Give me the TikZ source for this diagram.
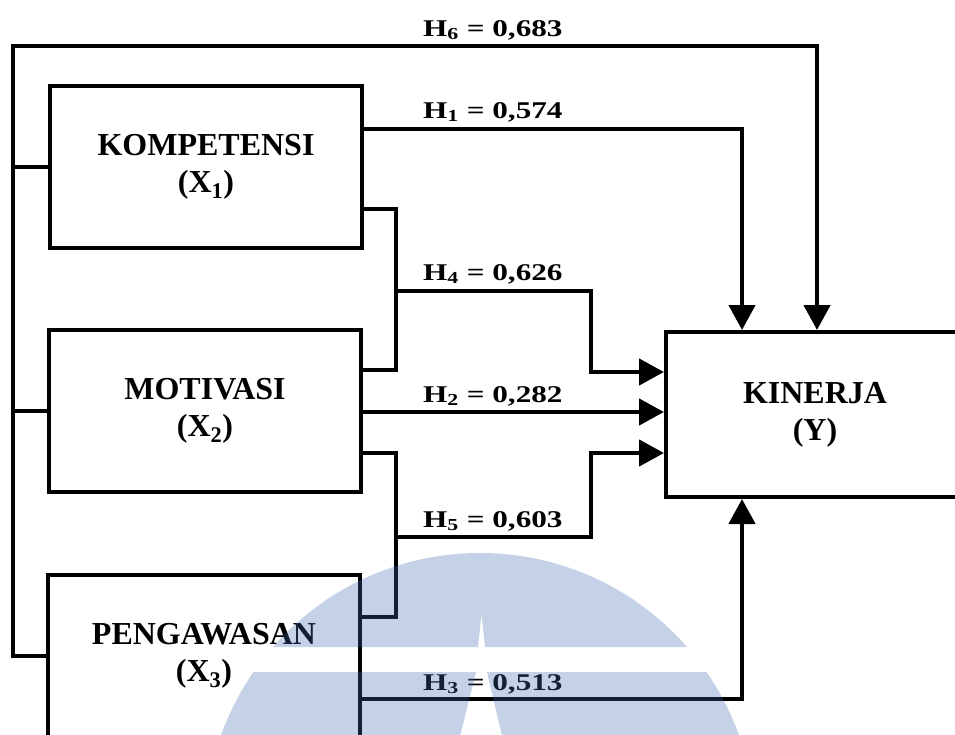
\documentclass[tikz,border=0pt]{standalone}
\usepackage{fontspec}
\setmainfont{Liberation Serif}
\usepackage{graphicx}
\usetikzlibrary{arrows.meta}
\definecolor{wm}{RGB}{62,105,178}
\newcommand\hlab[2]{\scalebox{1.3}[1]{H\textsubscript{#1} = #2}}
\begin{document}
\begin{tikzpicture}[x=1pt,y=-1pt,
  box/.style={draw, line width=4pt, minimum width=312pt, minimum height=162pt,
    align=center, inner sep=0pt, font=\fontsize{32}{37}\selectfont\bfseries},
  conn/.style={line width=4.5pt},
  arr/.style={conn, -{Triangle[length=25pt,width=26pt]}},
  lbl/.style={anchor=base west, inner sep=0pt, font=\fontsize{24}{28}\selectfont\bfseries}]
\useasboundingbox (0,0) rectangle (955,734);
\clip (0,0) rectangle (955,734);
\fill[white] (0,0) rectangle (955,734);

% boxes
\node[box] (komp) at (206,167) {KOMPETENSI\\(X\textsubscript{1})};
\node[box] (motiv) at (205,411) {MOTIVASI\\(X\textsubscript{2})};
\node[box] (peng) at (204,656) {PENGAWASAN\\(X\textsubscript{3})};
\node[box, minimum width=298pt, minimum height=165pt] (kin) at (815,414.5) {KINERJA\\(Y)};

% junction coordinates
\coordinate (tl) at (13,46);
\coordinate (tr) at (817,46);
\coordinate (h1) at (742,129);
\coordinate (h4a) at (396,209);
\coordinate (h4b) at (396,370);
\coordinate (h4m) at (396,291);
\coordinate (h4r) at (591,372);
\coordinate (h2) at (600,412);
\coordinate (h5a) at (396,453);
\coordinate (h5b) at (396,617);
\coordinate (h5m) at (396,537);
\coordinate (h5r) at (591,453);
\coordinate (h3) at (742,699);

% H6 (outer loop)
\draw[arr] (peng.west) -| (tl) -| (kin.north -| tr);
\draw[conn] (komp.west) -- (komp.west -| tl);
\draw[conn] (motiv.west) -- (motiv.west -| tl);
% H1
\draw[arr] (komp.east |- h1) -| (kin.north -| h1);
% H4
\draw[conn] (komp.east |- h4a) -- (h4a) -- (h4b) -- (motiv.east |- h4b);
\draw[arr] (h4m) -| (h4r) -- (kin.west |- h4r);
% H2
\draw[arr] (motiv.east |- h2) -- (kin.west |- h2);
% H5
\draw[conn] (motiv.east |- h5a) -- (h5a) -- (h5b) -- (peng.east |- h5b);
\draw[arr] (h5m) -| (h5r) -- (kin.west |- h5r);
% H3
\draw[arr] (peng.east |- h3) -| (kin.south -| h3);

% labels
\node[lbl] (l6) at (423,36) {\hlab{6}{0,683}};
\node[lbl] (l1) at (423,118) {\hlab{1}{0,574}};
\node[lbl] (l4) at (423,280) {\hlab{4}{0,626}};
\node[lbl] (l2) at (423,402) {\hlab{2}{0,282}};
\node[lbl] (l5) at (423,527) {\hlab{5}{0,603}};
\node[lbl] (l3) at (423,690) {\hlab{3}{0,513}};

% watermark
\begin{scope}
\clip (480,828) circle (275pt);
\fill[wm, opacity=0.3, even odd rule]
  (190,540) rectangle (770,740)
  (190,647) rectangle (770,672)
  (481.5,614) -- (485,647) -- (478,647) -- cycle
  (476,672) -- (487,672) -- (503,740) -- (459,740) -- cycle;
\end{scope}
\end{tikzpicture}
\end{document}
